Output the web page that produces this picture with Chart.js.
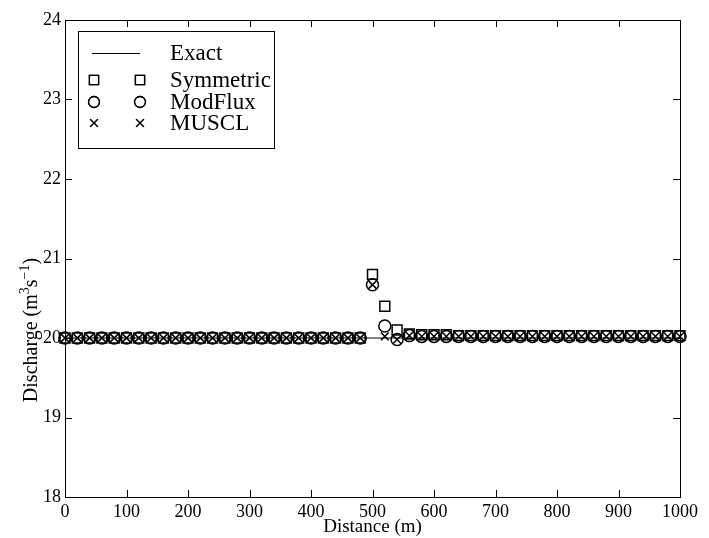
<!DOCTYPE html>
<html>
<head>
<meta charset="utf-8">
<script src="https://cdn.jsdelivr.net/npm/chart.js@4/dist/chart.umd.min.js"></script>
<style>
  html, body { margin: 0; padding: 0; background: #fff; }
  #wrap { width: 709px; height: 538px; }
</style>
</head>
<body>
<div id="wrap"><canvas id="dischargeChart" width="709" height="538"></canvas></div>
<script>
const distance = [0, 20, 40, 60, 80, 100, 120, 140, 160, 180, 200, 220, 240, 260, 280, 300, 320, 340, 360, 380,
  400, 420, 440, 460, 480, 500, 520, 540, 560, 580, 600, 620, 640, 660, 680, 700, 720, 740, 760, 780,
  800, 820, 840, 860, 880, 900, 920, 940, 960, 980, 1000];

const symmetric = [20, 20, 20, 20, 20, 20, 20, 20, 20, 20, 20, 20, 20, 20, 20, 20, 20, 20, 20, 20,
  20, 20, 20, 20, 20, 20.8, 20.4, 20.1, 20.05, 20.04, 20.04, 20.04, 20.03, 20.03, 20.03, 20.03, 20.03, 20.03, 20.03, 20.03,
  20.03, 20.03, 20.03, 20.03, 20.03, 20.03, 20.03, 20.03, 20.03, 20.03, 20.03];

const modFlux = [20, 20, 20, 20, 20, 20, 20, 20, 20, 20, 20, 20, 20, 20, 20, 20, 20, 20, 20, 20,
  20, 20, 20, 20, 20, 20.67, 20.15, 19.98, 20.03, 20.02, 20.02, 20.02, 20.02, 20.02, 20.02, 20.02, 20.02, 20.02, 20.02, 20.02,
  20.02, 20.02, 20.02, 20.02, 20.02, 20.02, 20.02, 20.02, 20.02, 20.02, 20.02];

const muscl = [20, 20, 20, 20, 20, 20, 20, 20, 20, 20, 20, 20, 20, 20, 20, 20, 20, 20, 20, 20,
  20, 20, 20, 20, 20, 20.67, 20.02, 19.98, 20.03, 20.02, 20.02, 20.02, 20.02, 20.02, 20.02, 20.02, 20.02, 20.02, 20.02, 20.02,
  20.02, 20.02, 20.02, 20.02, 20.02, 20.02, 20.02, 20.02, 20.02, 20.02, 20.02];

const exactX = [0, 1000];
const exactQ = [20, 20];

const xTicks = [0, 100, 200, 300, 400, 500, 600, 700, 800, 900, 1000];
const yTicks = [18, 19, 20, 21, 22, 23, 24];

const legendNames = ['Exact', 'Symmetric', 'ModFlux', 'MUSCL'];

const serif = '"Liberation Serif", "DejaVu Serif", serif';

function pts(xs, ys) {
  return xs.map((x, i) => ({ x: x, y: ys[i] }));
}

function markerSet(label, ys, style, r) {
  return {
    label: label,
    data: pts(distance, ys),
    showLine: false,
    pointStyle: style,
    pointRadius: r,
    pointHoverRadius: r,
    pointBorderColor: '#000',
    pointBackgroundColor: 'rgba(0,0,0,0)',
    pointBorderWidth: 1.5,
    clip: false
  };
}

// y title with real superscripts: Discharge (m^3 s^-1)
function drawYTitle(ctx, cx, cy) {
  const parts = [['Discharge (m', 0], ['3', 1], ['s', 0], ['\u22121', 1], [')', 0]];
  const big = '20px ' + serif, small = '14px ' + serif;
  let total = 0;
  parts.forEach(p => { ctx.font = p[1] ? small : big; total += ctx.measureText(p[0]).width; });
  ctx.save();
  ctx.translate(cx, cy);
  ctx.rotate(-Math.PI / 2);
  ctx.fillStyle = '#000';
  ctx.textAlign = 'left';
  ctx.textBaseline = 'alphabetic';
  let x = -total / 2;
  parts.forEach(p => {
    ctx.font = p[1] ? small : big;
    ctx.fillText(p[0], x, p[1] ? -1 : 7);
    x += ctx.measureText(p[0]).width;
  });
  ctx.restore();
}

// box, inward ticks and the legend
const framePlugin = {
  id: 'frame',
  afterDraw(chart) {
    const ctx = chart.ctx;
    const a = chart.chartArea;
    const xs = chart.scales.x, ys = chart.scales.y;
    ctx.save();
    ctx.strokeStyle = '#000';
    ctx.lineWidth = 1;
    ctx.strokeRect(a.left + 0.5, a.top + 0.5, a.right - a.left, a.bottom - a.top);
    ctx.beginPath();
    xTicks.forEach(v => {
      const px = Math.round(xs.getPixelForValue(v)) + 0.5;
      ctx.moveTo(px, a.bottom); ctx.lineTo(px, a.bottom - 7);
      ctx.moveTo(px, a.top); ctx.lineTo(px, a.top + 7);
    });
    yTicks.forEach(v => {
      const py = Math.round(ys.getPixelForValue(v)) + 0.5;
      ctx.moveTo(a.left, py); ctx.lineTo(a.left + 7, py);
      ctx.moveTo(a.right, py); ctx.lineTo(a.right - 7, py);
    });
    ctx.stroke();

    drawYTitle(ctx, 30, 330);

    // legend
    const bx = 78, by = 31, bw = 196, bh = 117;
    ctx.fillStyle = '#fff';
    ctx.fillRect(bx, by, bw, bh);
    ctx.strokeRect(bx + 0.5, by + 0.5, bw, bh);
    const rows = [53, 80, 102, 123];
    ctx.beginPath();
    ctx.moveTo(92, rows[0] + 0.5); ctx.lineTo(140, rows[0] + 0.5);
    ctx.stroke();
    const styles = [null, ['rect', 6.5], ['circle', 5.5], ['crossRot', 5.5]];
    ctx.lineWidth = 1.3;
    for (let i = 1; i < 4; i++) {
      [94, 140].forEach(mx => {
        ctx.fillStyle = 'rgba(0,0,0,0)';
        Chart.helpers.drawPoint(ctx, { pointStyle: styles[i][0], radius: styles[i][1], borderWidth: 1.3 }, mx, rows[i]);
        ctx.stroke();
      });
    }
    ctx.font = '23px ' + serif;
    ctx.fillStyle = '#000';
    ctx.textBaseline = 'middle';
    ctx.textAlign = 'left';
    legendNames.forEach((n, i) => ctx.fillText(n, 170, rows[i] + 1));
    ctx.restore();
  }
};

new Chart(document.getElementById('dischargeChart'), {
  type: 'scatter',
  data: {
    datasets: [
      {
        label: 'Exact',
        data: pts(exactX, exactQ),
        showLine: true,
        borderColor: '#000',
        borderWidth: 1,
        pointRadius: 0,
        pointHoverRadius: 0
      },
      markerSet('Symmetric', symmetric, 'rect', 7),
      markerSet('ModFlux', modFlux, 'circle', 6),
      markerSet('MUSCL', muscl, 'crossRot', 5.5)
    ]
  },
  options: {
    responsive: false,
    animation: false,
    events: [],
    layout: { padding: { top: 20, right: 29, left: 0, bottom: 0 } },
    plugins: {
      legend: { display: false },
      tooltip: { enabled: false }
    },
    scales: {
      x: {
        type: 'linear',
        min: 0,
        max: 1000,
        afterBuildTicks: s => { s.ticks = xTicks.map(v => ({ value: v })); },
        afterFit: s => { s.height = 41; },
        grid: { display: false, drawTicks: false },
        border: { display: false },
        ticks: { color: '#000', padding: 4, maxRotation: 0, font: { family: serif, size: 18 }, callback: v => String(v) },
        title: { display: true, text: 'Distance (m)', color: '#000', padding: 0, font: { family: serif, size: 19 } }
      },
      y: {
        type: 'linear',
        min: 18,
        max: 24,
        afterBuildTicks: s => { s.ticks = yTicks.map(v => ({ value: v })); },
        afterFit: s => { s.width = 65; },
        grid: { display: false, drawTicks: false },
        border: { display: false },
        ticks: { color: '#000', padding: 4, font: { family: serif, size: 18 }, callback: v => String(v) }
      }
    }
  },
  plugins: [framePlugin]
});
</script>
</body>
</html>
